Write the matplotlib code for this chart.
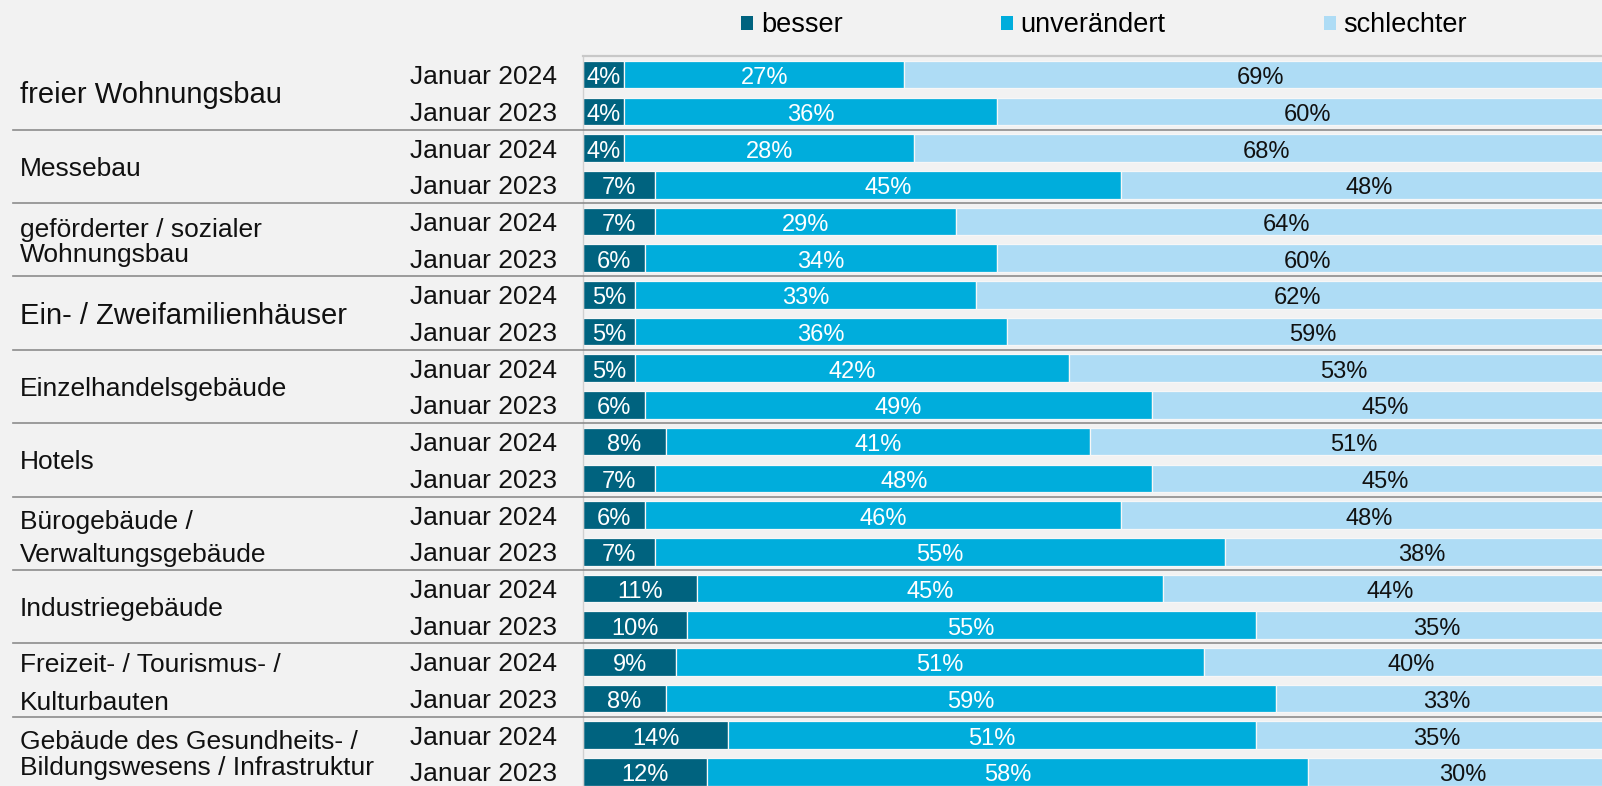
import matplotlib
matplotlib.use("Agg")
import matplotlib.pyplot as plt
from matplotlib.patches import Patch
from matplotlib.lines import Line2D
from matplotlib.transforms import blended_transform_factory

plt.rcParams['font.family'] = ['Liberation Sans', 'DejaVu Sans']

# ---------------- data ----------------
categories = [
    "freier Wohnungsbau",
    "Messebau",
    "geförderter / sozialer\nWohnungsbau",
    "Ein- / Zweifamilienhäuser",
    "Einzelhandelsgebäude",
    "Hotels",
    "Bürogebäude /\nVerwaltungsgebäude",
    "Industriegebäude",
    "Freizeit- / Tourismus- /\nKulturbauten",
    "Gebäude des Gesundheits- /\nBildungswesens / Infrastruktur",
]
periods = ["Januar 2024", "Januar 2023"]
series_names = ["besser", "unverändert", "schlechter"]

# rows in order: for each category -> Januar 2024, Januar 2023
besser = [4, 4, 4, 7, 7, 6, 5, 5, 5, 6, 8, 7, 6, 7, 11, 10, 9, 8, 14, 12]
unveraendert = [27, 36, 28, 45, 29, 34, 33, 36, 42, 49, 41, 48, 46, 55, 45, 55, 51, 59, 51, 58]
schlechter = [69, 60, 68, 48, 64, 60, 62, 59, 53, 45, 51, 45, 48, 38, 44, 35, 40, 33, 35, 30]

# ---------------- style / layout ----------------
colors = ["#00637f", "#00addc", "#aedcf5"]
label_colors = ["white", "white", "#111111"]
bg = "#f2f2f2"
cat_fontsize = [21, 19, 19, 21, 19, 19, 19, 19, 19, 19]
cat_line_px = [0, 0, 25, 0, 0, 0, 32.7, 0, 38, 26]
cat_shift_px = [0, 0, 0, 0, 0, 0, 3, 0, 1, -1.5]

W, H = 1602, 786
px_per_row = 36.7
top_px = 56.3
n_rows = len(besser)

fig = plt.figure(figsize=(W / 100, H / 100), dpi=100, facecolor=bg)
ax_left = 583 / W
ax_w = 1035 / W
ax_top = 1 - top_px / H
ax_h = n_rows * px_per_row / H
ax = fig.add_axes([ax_left, ax_top - ax_h, ax_w, ax_h])
ax.set_facecolor(bg)

rows = list(range(n_rows))
series = [besser, unveraendert, schlechter]
left = [0] * n_rows
for vals, col, lc in zip(series, colors, label_colors):
    ax.barh(rows, vals, left=left, height=0.75, color=col,
            edgecolor="#f7f7f7", linewidth=0.9, zorder=2)
    for r, (l, v) in enumerate(zip(left, vals)):
        ax.text(l + v / 2, r + 0.26, f"{v}%", ha="center", va="baseline",
                color=lc, fontsize=17, zorder=3)
    left = [a + b for a, b in zip(left, vals)]

ax.set_xticks([])
ax.set_yticks([])
for s in ["right", "bottom"]:
    ax.spines[s].set_visible(False)
ax.spines["top"].set_color("#c8c8c8")
ax.spines["top"].set_linewidth(1.6)
ax.spines["left"].set_color("#d0d0d0")
ax.spines["left"].set_linewidth(1.0)

blend = blended_transform_factory(fig.transFigure, ax.transData)

# period labels
for r in rows:
    ax.text(557 / W, r + 0.2575, periods[r % 2], transform=blend,
            ha="right", va="baseline", fontsize=19, color="#111111")

# category labels
for g, cat in enumerate(categories):
    lines = cat.split("\n")
    n = len(lines)
    fs = cat_fontsize[g]
    cap = 0.716 * fs * 100 / 72
    yc = 2 * g + 0.5
    s = cat_line_px[g]
    for i, line in enumerate(lines):
        off_px = -(n - 1) * s / 2 + cap / 2 + i * s + cat_shift_px[g]
        ax.text(20 / W, yc + off_px / px_per_row, line, transform=blend,
                ha="left", va="baseline", fontsize=fs, color="#111111")

# group separators
for g in range(1, len(categories)):
    y = 2 * g - 0.5
    ln = Line2D([13 / W, 1.0], [y, y], transform=blend, color="#8c8c8c",
                linewidth=1.2, clip_on=False, zorder=4)
    ax.add_line(ln)

ax.set_xlim(0, 100)
ax.set_ylim(n_rows - 0.5, -0.5)

# legend
handles = [Patch(facecolor=c, edgecolor="none", label=nm)
           for c, nm in zip(colors, series_names)]
fig.legend(handles=handles, loc="center left",
           bbox_to_anchor=(741 / W, 1 - 25.5 / H), ncol=3, frameon=False,
           fontsize=19.5, handlelength=0.44, handleheight=0.44,
           handletextpad=0.3, columnspacing=5.83, borderpad=0,
           borderaxespad=0)

fig.savefig("out.png", dpi=100, facecolor=bg)
